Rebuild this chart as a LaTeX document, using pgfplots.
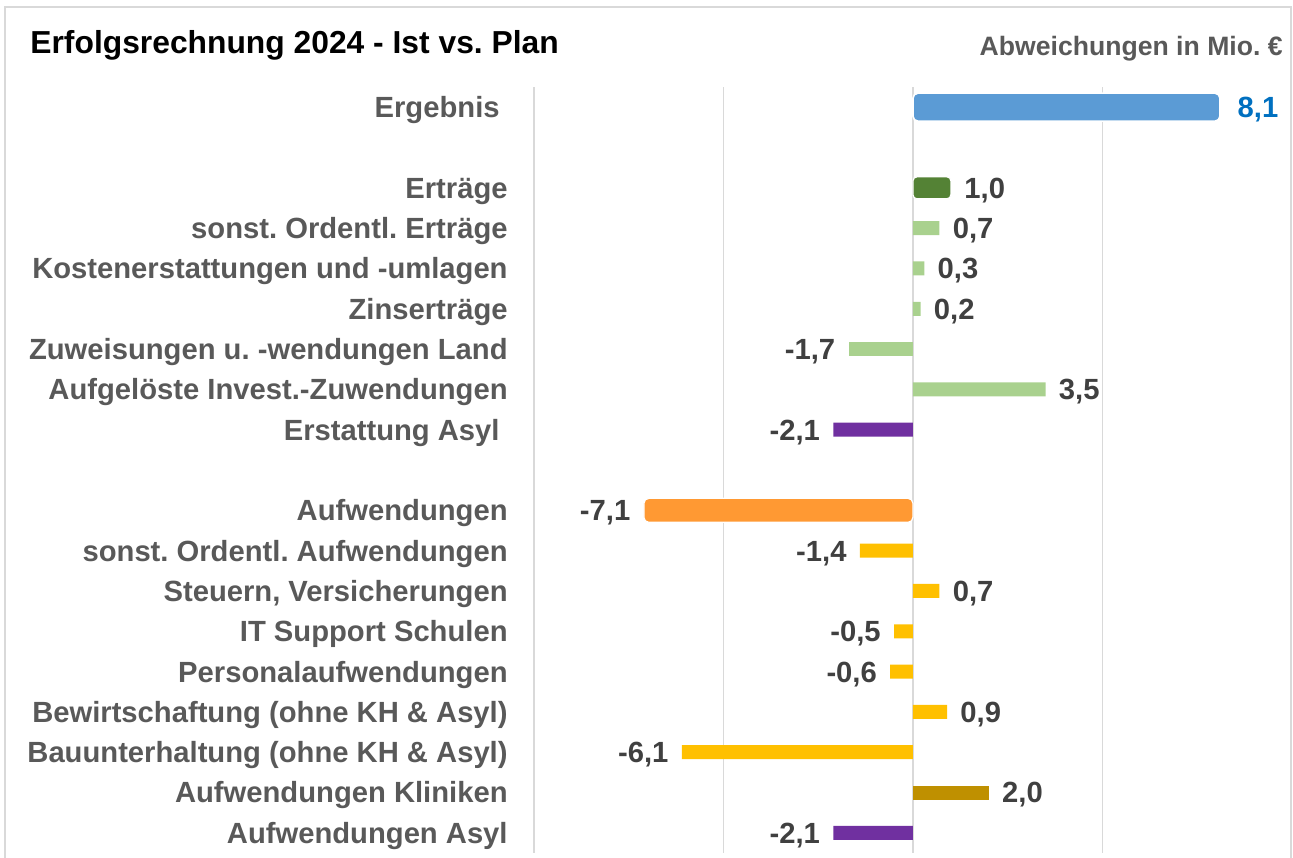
\documentclass[border=0pt]{standalone}
\usepackage{fontspec}
\setmainfont{Liberation Sans}
\usepackage{pgfplots}
\pgfplotsset{compat=1.18}
\frenchspacing

\definecolor{ergblue}{HTML}{5B9BD5}
\definecolor{valblue}{HTML}{0070C0}
\definecolor{dkgreen}{HTML}{548235}
\definecolor{ltgreen}{HTML}{A9D18E}
\definecolor{asylpurple}{HTML}{7030A0}
\definecolor{aufworange}{HTML}{FF9933}
\definecolor{gold}{HTML}{FFC000}
\definecolor{dkgold}{HTML}{BF9000}
\definecolor{gridgray}{HTML}{D9D9D9}
\definecolor{labelgray}{HTML}{595959}
\definecolor{valgray}{HTML}{404040}

\pgfplotsset{
  pos/.style={every node near coord/.append style={anchor=base west, xshift=6.5pt, yshift=-5.2pt}},
  neg/.style={every node near coord/.append style={anchor=base east, xshift=-6.5pt, yshift=-5.2pt}},
}

\begin{document}
\begin{tikzpicture}
\path[use as bounding box] (0,0) rectangle (646.5pt,-428.5pt);
\draw[gridgray, line width=0.6pt] (2.5pt,-432pt) -- (2.5pt,-3.5pt) -- (645.5pt,-3.5pt) -- (645.5pt,-432pt);
\node[anchor=base west, inner sep=0pt, font=\bfseries\fontsize{15.9pt}{19pt}\selectfont]
  at (15pt,-26.5pt) {Erfolgsrechnung 2024 - Ist vs. Plan};
\node[anchor=base east, inner sep=0pt, text=labelgray, font=\bfseries\fontsize{13.3pt}{16pt}\selectfont]
  at (641.5pt,-27.5pt) {Abweichungen in Mio. €};

\begin{axis}[
  at={(267pt,-426.5pt)}, anchor=south west,
  scale only axis, width=378pt, height=383pt,
  xmin=-10, xmax=9.95, ymin=-0.5, ymax=18.5, y dir=reverse,
  xbar, bar shift=0pt,
  axis line style={draw=none},
  major tick length=0pt,
  xtick={-10,-5,0,5}, xticklabels={},
  xmajorgrids, grid style={gridgray, line width=0.75pt},
  ytick={0,...,18},
  yticklabels={
    Ergebnis\kern4pt, {},
    Erträge, sonst. Ordentl. Erträge, Kostenerstattungen und -umlagen, Zinserträge,
    Zuweisungen u. -wendungen Land, Aufgelöste Invest.-Zuwendungen, Erstattung Asyl\kern4pt, {},
    Aufwendungen, sonst. Ordentl. Aufwendungen, {Steuern, Versicherungen}, IT Support Schulen,
    Personalaufwendungen, Bewirtschaftung (ohne KH \& Asyl), Bauunterhaltung (ohne KH \& Asyl),
    Aufwendungen Kliniken, Aufwendungen Asyl},
  yticklabel style={font=\bfseries\fontsize{14.6pt}{17pt}\selectfont, text=labelgray,
    inner sep=0pt, anchor=base east, xshift=-13pt, yshift=-5.2pt},
  point meta=x,
  nodes near coords={\pgfmathprintnumber[fixed,fixed zerofill,precision=1,use comma,assume math mode=true]{\pgfplotspointmeta}},
  every node near coord/.append style={font=\bfseries\fontsize{14.6pt}{17pt}\selectfont,
    text=valgray, inner sep=0pt},
  clip=false,
]
  % Ergebnis
  \addplot[bar shift=0pt, bar width=14pt, fill=ergblue, draw=white, line width=0.8pt,
    rounded corners=2.5pt, pos, every node near coord/.append style={text=valblue, xshift=2pt}]
    coordinates {(8.1,0)};
  % Ertraege
  \addplot[bar shift=0pt, bar width=11pt, fill=dkgreen, draw=white, line width=0.6pt,
    rounded corners=2pt, pos]
    coordinates {(1.0,2)};
  \addplot[bar shift=0pt, bar width=7pt, fill=ltgreen, draw=none, pos]
    coordinates {(0.7,3) (0.3,4) (0.2,5) (3.5,7)};
  \addplot[bar shift=0pt, bar width=7pt, fill=ltgreen, draw=none, neg]
    coordinates {(-1.7,6)};
  % Asyl
  \addplot[bar shift=0pt, bar width=7pt, fill=asylpurple, draw=none, neg]
    coordinates {(-2.1,8) (-2.1,18)};
  % Aufwendungen
  \addplot[bar shift=0pt, bar width=12pt, fill=aufworange, draw=white, line width=0.6pt,
    rounded corners=2.5pt, neg]
    coordinates {(-7.1,10)};
  \addplot[bar shift=0pt, bar width=7pt, fill=gold, draw=none, neg]
    coordinates {(-1.4,11) (-0.5,13) (-0.6,14) (-6.1,16)};
  \addplot[bar shift=0pt, bar width=7pt, fill=gold, draw=none, pos]
    coordinates {(0.7,12) (0.9,15)};
  \addplot[bar shift=0pt, bar width=7pt, fill=dkgold, draw=none, pos]
    coordinates {(2.0,17)};
\end{axis}
\end{tikzpicture}
\end{document}
